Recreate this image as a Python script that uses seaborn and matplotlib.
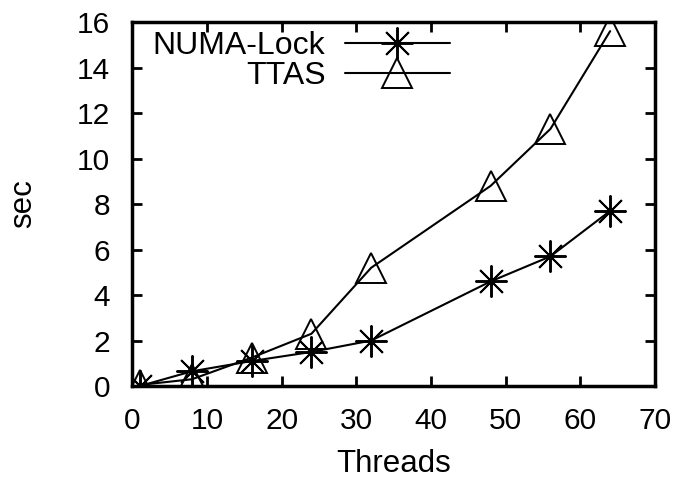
import numpy as np
import pandas as pd
import matplotlib
matplotlib.use("Agg")
import matplotlib.pyplot as plt
import seaborn as sns

threads = [1, 8, 16, 24, 32, 48, 56, 64]
numa_lock = [0.0, 0.65, 1.1, 1.5, 2.0, 4.6, 5.7, 7.7]
ttas = [0.05, 0.3, 1.25, 2.3, 5.2, 8.8, 11.3, 15.6]

sns.set_style("ticks", {"text.color": "black", "axes.labelcolor": "black",
                        "xtick.color": "black", "ytick.color": "black",
                        "axes.edgecolor": "black"})
plt.rcParams['font.family'] = ['Liberation Sans', 'DejaVu Sans']

fig = plt.figure(figsize=(6.78, 4.79), dpi=100)
ax = fig.add_axes([0.195, 0.194, 0.771, 0.760])

df_numa = pd.DataFrame({"Threads": threads, "sec": numa_lock})
df_ttas = pd.DataFrame({"Threads": threads, "sec": ttas})

sns.lineplot(data=df_numa, x="Threads", y="sec", ax=ax, color="black", lw=1.5,
             marker=(8, 2, 0), markersize=23, markeredgewidth=1.4,
             markeredgecolor="black", label="NUMA-Lock")
sns.lineplot(data=df_ttas, x="Threads", y="sec", ax=ax, color="black", lw=1.5,
             marker="^", markersize=21, markeredgewidth=1.4,
             markerfacecolor="none", markeredgecolor="black", label="TTAS")

ax.set_xlim(0, 70)
ax.set_ylim(0, 16)
ax.set_xticks(np.arange(0, 71, 10))
ax.set_yticks(np.arange(0, 17, 2))
ax.tick_params(direction="in", length=7, width=2, labelsize=21.5,
               top=True, right=True, colors="black")
ax.tick_params(axis="x", pad=15)
ax.tick_params(axis="y", pad=16)
for s in ax.spines.values():
    s.set_linewidth(2.5)
    s.set_color("black")
    s.set_visible(True)
ax.set_xlabel("Threads", fontsize=22.5, color="black")
ax.set_ylabel("sec", fontsize=22.5, color="black")
ax.xaxis.set_label_coords(0.5, -0.173)
ax.yaxis.set_label_coords(-0.18, 0.5)

leg = ax.legend(loc="upper left", markerfirst=False, frameon=False,
                fontsize=23, handlelength=3.3, borderaxespad=0.0,
                labelspacing=0.0, handletextpad=0.6,
                bbox_to_anchor=(0.015, 1.01))
for t in leg.get_texts():
    t.set_ha("right")
    t.set_color("black")
leg._legend_box.align = "right"

fig.savefig("out.png", dpi=100)
